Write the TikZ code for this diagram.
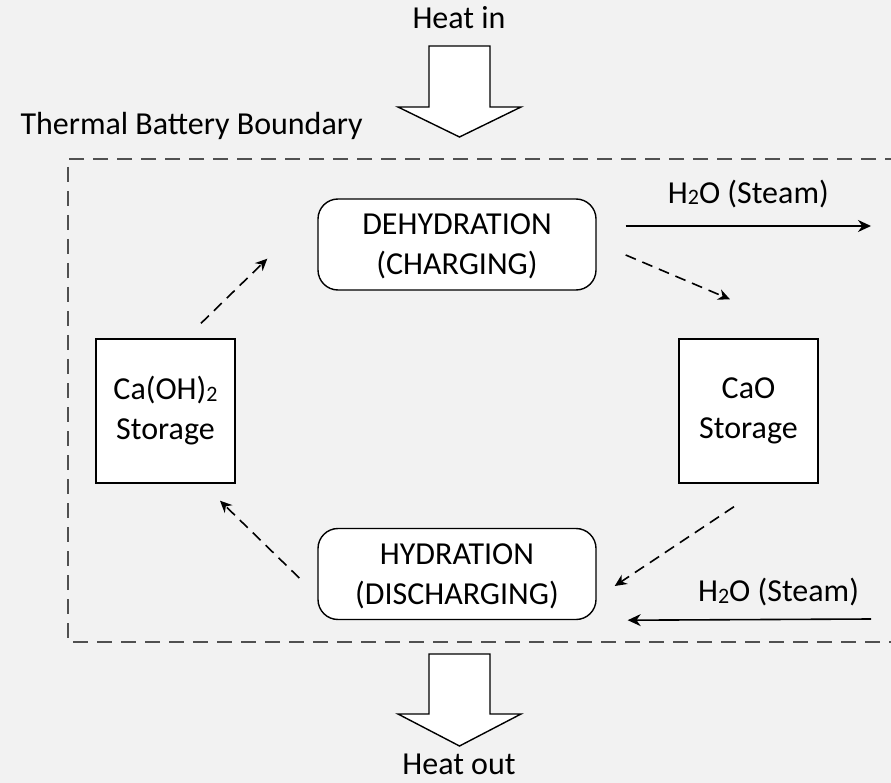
\documentclass[tikz,border=0pt]{standalone}
\usepackage{fontspec}
\setmainfont{Carlito}
\usetikzlibrary{arrows.meta}
\definecolor{pagebg}{HTML}{F2F2F2}
\definecolor{edgegray}{HTML}{505050}
\newcommand{\chemsub}[1]{\raisebox{-1.5pt}{\fontsize{22}{22}\selectfont #1}}
\tikzset{
  stage/.style={draw, line width=1.4pt, rounded corners=20pt, fill=white,
    minimum width=278pt, minimum height=91pt, align=center, text depth=0pt},
  store/.style={draw, line width=1.4pt, fill=white,
    minimum width=139pt, minimum height=144pt, align=center},
  flow/.style={-{Stealth[length=12pt,width=11pt]}, line width=1.6pt, dash pattern=on 11pt off 7pt},
  steam/.style={-{Stealth[length=13pt,width=12pt]}, line width=1.6pt},
  heatarrow/.style={draw, line width=1.4pt, fill=white},
  boundary/.style={edgegray, line width=1.8pt, dash pattern=on 15pt off 9pt}
}
\begin{document}
\begin{tikzpicture}[x=1pt, y=-1pt, font=\fontsize{32}{40}\selectfont]
    \useasboundingbox (0,0) rectangle (891,783);
    \clip (0,0) rectangle (891,783);
    \fill[pagebg] (0,0) rectangle (891,783);

    % Boundary
    \draw[boundary] (900,159) -- (68,159) -- (68,642) -- (900,642);
    \node[anchor=west] (title) at (17,126) {Thermal Battery Boundary};

    % Heat in / out
    \node[inner sep=0pt] (heatin) at (459,18) {Heat in};
    \draw[heatarrow] (429,46) -- (490,46) -- (490,107) -- (521,107) -- (459.5,137) -- (398,107) -- (429,107) -- cycle;
    \draw[heatarrow] (429,654) -- (490,654) -- (490,714) -- (521,714) -- (459.5,746) -- (398,714) -- (429,714) -- cycle;
    \node[inner sep=0pt] (heatout) at (459,764) {Heat out};

    % Stages and storage
    \node[stage] (dehyd) at (457,244.5) {DEHYDRATION\\(CHARGING)};
    \node[stage] (hyd) at (457,574) {HYDRATION\\(DISCHARGING)};
    \node[store] (caoh) at (165.5,411) {Ca(OH)\chemsub{2}\\Storage};
    \node[store] (cao) at (748.5,411) {CaO\\Storage};

    % Cycle
    \draw[flow] ([shift={(35.5,-15)}]caoh.north) -- ([shift={(-50,-32)}]dehyd.south west);
    \draw[flow] ([shift={(29,10.5)}]dehyd.east) -- ([shift={(-18.5,-39)}]cao.north);
    \draw[flow] ([shift={(-14.5,23)}]cao.south) -- ([shift={(18,12)}]hyd.east);
    \draw[flow] ([shift={(-18,4)}]hyd.west) -- ([shift={(54.5,17)}]caoh.south);

    % Steam
    \coordinate (steamout) at (871,226);
    \coordinate (steamin) at (871,619);
    \draw[steam] ([shift={(29,-18.5)}]dehyd.east) -- (steamout)
        node[pos=0.5, above=14pt] (steamlabA) {H\chemsub{2}O (Steam)};
    \draw[steam] (steamin) -- ([shift={(31,0)}]hyd.south east)
        node[pos=0.38, above=9pt] (steamlabB) {H\chemsub{2}O (Steam)};
\end{tikzpicture}
\end{document}
